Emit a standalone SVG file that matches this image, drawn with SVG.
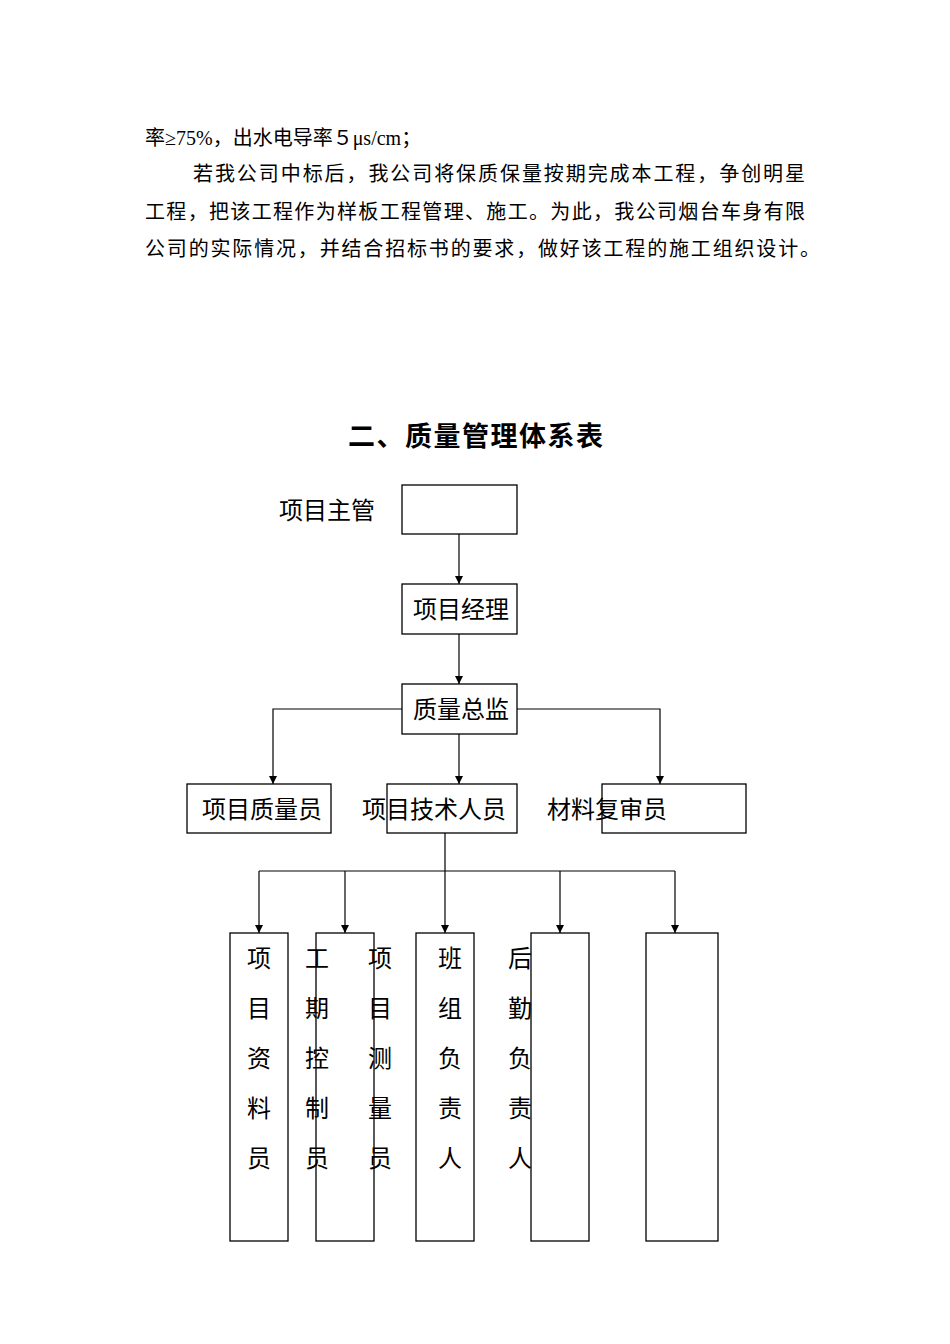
<svg xmlns="http://www.w3.org/2000/svg" width="950" height="1344" viewBox="0 0 950 1344">
<style>
text{font-family:"Liberation Serif","Noto Sans CJK SC",serif;fill:#000}
.p{font-size:20px}
.n{font-size:24px}
.b{fill:#fff;stroke:#000;stroke-width:1.3}
.c{fill:none;stroke:#000;stroke-width:1.2;marker-end:url(#a)}
.l{fill:none;stroke:#000;stroke-width:1.2}
</style>
<defs><marker id="a" viewBox="0 0 10 10" refX="10" refY="5" markerWidth="8" markerHeight="8" markerUnits="userSpaceOnUse" orient="auto"><path d="M0,0L10,5L0,10z"/></marker></defs>
<rect width="950" height="1344" fill="#fff"/>
<g id="para">
<text class="p" x="145" y="145">率≥75%，出水电导率５μs/cm；</text>
<text class="p" x="193" y="181" textLength="612">若我公司中标后，我公司将保质保量按期完成本工程，争创明星</text>
<text class="p" x="145" y="219" textLength="660">工程，把该工程作为样板工程管理、施工。为此，我公司烟台车身有限</text>
<text class="p" x="145" y="256" textLength="675">公司的实际情况，并结合招标书的要求，做好该工程的施工组织设计。</text>
</g>
<text x="348" y="446" font-size="27" font-weight="bold" textLength="255">二、质量管理体系表</text>
<g id="connectors">
<path class="c" d="M459,534V584"/>
<path class="c" d="M459,634V684"/>
<path class="c" d="M459,734V784"/>
<path class="c" d="M402,709H273V784"/>
<path class="c" d="M517,709H660V784"/>
<path class="l" d="M445,833V871M259,871H675"/>
<path class="c" d="M259,871V933"/>
<path class="c" d="M345,871V933"/>
<path class="c" d="M445,871V933"/>
<path class="c" d="M560,871V933"/>
<path class="c" d="M675,871V933"/>
</g>
<g id="n1"><rect class="b" x="402" y="485" width="115" height="49"/><text class="n" x="279" y="519">项目主管</text></g>
<g id="n2"><rect class="b" x="402" y="584" width="115" height="50"/><text class="n" x="461" y="618" text-anchor="middle">项目经理</text></g>
<g id="n3"><rect class="b" x="402" y="684" width="115" height="50"/><text class="n" x="461" y="718" text-anchor="middle">质量总监</text></g>
<g id="n4"><rect class="b" x="187" y="784" width="144" height="49"/><text class="n" x="202" y="818">项目质量员</text></g>
<g id="n5"><rect class="b" x="387" y="784" width="130" height="49"/><text class="n" x="362" y="818">项目技术人员</text></g>
<g id="n6"><rect class="b" x="602" y="784" width="144" height="49"/><text class="n" x="547" y="818">材料复审员</text></g>
<g id="b1"><rect class="b" x="230" y="933" width="58" height="308"/></g>
<g id="b2"><rect class="b" x="316" y="933" width="58" height="308"/></g>
<g id="b3"><rect class="b" x="416" y="933" width="58" height="308"/></g>
<g id="b4"><rect class="b" x="531" y="933" width="58" height="308"/></g>
<g id="b5"><rect class="b" x="646" y="933" width="72" height="308"/></g>
<g id="vt" class="n" text-anchor="middle">
<text x="259" y="967">项</text><text x="259" y="1017">目</text><text x="259" y="1067">资</text><text x="259" y="1117">料</text><text x="259" y="1167">员</text>
<text x="317" y="967">工</text><text x="317" y="1017">期</text><text x="317" y="1067">控</text><text x="317" y="1117">制</text><text x="317" y="1167">员</text>
<text x="380" y="967">项</text><text x="380" y="1017">目</text><text x="380" y="1067">测</text><text x="380" y="1117">量</text><text x="380" y="1167">员</text>
<text x="450" y="967">班</text><text x="450" y="1017">组</text><text x="450" y="1067">负</text><text x="450" y="1117">责</text><text x="450" y="1167">人</text>
<text x="520" y="967">后</text><text x="520" y="1017">勤</text><text x="520" y="1067">负</text><text x="520" y="1117">责</text><text x="520" y="1167">人</text>
</g>
</svg>
